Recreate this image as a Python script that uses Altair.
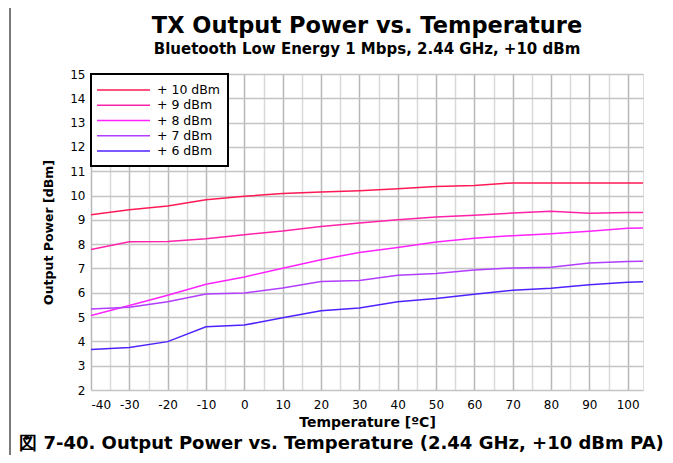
import altair as alt
import pandas as pd

temps = [-40, -30, -20, -10, 0, 10, 20, 30, 40, 50, 60, 70, 80, 90, 100, 104]
p10 = [9.21, 9.42, 9.57, 9.83, 9.97, 10.08, 10.15, 10.20, 10.28, 10.37, 10.41, 10.52, 10.52, 10.52, 10.52, 10.52]
p9 = [7.78, 8.10, 8.11, 8.22, 8.39, 8.54, 8.73, 8.87, 9.00, 9.12, 9.19, 9.28, 9.35, 9.27, 9.30, 9.30]
p8 = [5.06, 5.48, 5.90, 6.35, 6.65, 7.01, 7.36, 7.66, 7.86, 8.09, 8.24, 8.35, 8.43, 8.53, 8.65, 8.66]
p7 = [5.33, 5.40, 5.63, 5.95, 5.99, 6.20, 6.46, 6.50, 6.72, 6.79, 6.94, 7.02, 7.05, 7.22, 7.29, 7.30]
p6 = [3.67, 3.75, 3.99, 4.60, 4.67, 4.97, 5.26, 5.37, 5.63, 5.76, 5.94, 6.10, 6.19, 6.33, 6.43, 6.45]

series_names = ["+ 10 dBm", "+ 9 dBm", "+ 8 dBm", "+ 7 dBm", "+ 6 dBm"]
series_values = [p10, p9, p8, p7, p6]
series_colors = ["#FF1A55", "#FF22A8", "#FF22FF", "#B23CFF", "#4E22FF"]

x_ticks = list(range(-40, 101, 5))
y_ticks = list(range(2, 16))

rows = []
for name, vals in zip(series_names, series_values):
    for t, v in zip(temps, vals):
        rows.append({"Temperature": t, "Power": v, "Series": name})
df = pd.DataFrame(rows)
legend_df = pd.DataFrame({"Series": series_names})

FONT = "DejaVu Sans"
W, H = 552, 316

color_scale = alt.Scale(domain=series_names, range=series_colors)

lines = alt.Chart(df).mark_line(strokeWidth=1.5, clip=True).encode(
    x=alt.X(
        "Temperature:Q",
        scale=alt.Scale(domain=[-40, 104], nice=False, zero=False),
        axis=alt.Axis(
            values=x_ticks,
            title="Temperature [ºC]",
            titleFont=FONT, titleFontSize=14, titleFontWeight="bold",
            titleColor="black", titlePadding=5,
            labelFont=FONT, labelFontSize=12, labelColor="black",
            labelExpr="datum.value % 10 == 0 ? toString(datum.value) : ''",
            labelPadding=9, ticks=False, domain=False,
            gridColor={"expr": "datum.value % 10 == 0 ? '#b8b8b8' : '#d9d9d9'"},
            gridWidth=1.5,
        ),
    ),
    y=alt.Y(
        "Power:Q",
        scale=alt.Scale(domain=[2, 15], nice=False, zero=False),
        axis=alt.Axis(
            values=y_ticks,
            title="Output Power [dBm]",
            titleFont=FONT, titleFontSize=12.5, titleFontWeight="bold",
            titleColor="black", titlePadding=14,
            labelFont=FONT, labelFontSize=12, labelColor="black",
            labelPadding=6, ticks=False, domain=False,
            gridColor="#c4c4c4", gridWidth=1.5,
        ),
    ),
    color=alt.Color("Series:N", scale=color_scale, legend=None),
)

# legend drawn from the series list
leg_y = alt.Y("Series:N", scale=alt.Scale(type="point", domain=series_names, range=[16, 77], padding=0), axis=None)
leg_box = alt.Chart(legend_df).mark_rect(fill="white", stroke="black", strokeWidth=2).encode(
    x=alt.value(0), x2=alt.value(137), y=alt.value(0), y2=alt.value(92)
)
leg_lines = alt.Chart(legend_df).mark_rule(strokeWidth=1.5).encode(
    x=alt.value(6), x2=alt.value(59), y=leg_y,
    color=alt.Color("Series:N", scale=color_scale, legend=None),
)
leg_text = alt.Chart(legend_df).mark_text(
    font=FONT, fontSize=12.5, color="black", align="left", baseline="middle"
).encode(x=alt.value(66), y=leg_y, text="Series:N")

title_df = pd.DataFrame({"t": ["TX Output Power vs. Temperature"]})
sub_df = pd.DataFrame({"t": ["Bluetooth Low Energy 1 Mbps, 2.44 GHz, +10 dBm"]})
cap_df = pd.DataFrame({"t": ["図 7-40. Output Power vs. Temperature (2.44 GHz, +10 dBm PA)"]})

title = alt.Chart(title_df).mark_text(
    font=FONT, fontSize=22.5, fontWeight="bold", color="black", align="center", baseline="alphabetic"
).encode(x=alt.value(W / 2), y=alt.value(-41), text="t:N")
sub = alt.Chart(sub_df).mark_text(
    font=FONT, fontSize=15, fontWeight="bold", color="black", align="center", baseline="alphabetic"
).encode(x=alt.value(W / 2), y=alt.value(-20), text="t:N")
cap = alt.Chart(cap_df).mark_text(
    font=FONT, fontSize=18, fontWeight="bold", color="black", align="center", baseline="alphabetic"
).encode(x=alt.value(250.5), y=alt.value(H + 59), text="t:N")

vline = alt.Chart(title_df).mark_rule(color="#7a7a7a", strokeWidth=2).encode(
    x=alt.value(-81), y=alt.value(-80), y2=alt.value(H + 80)
)
hline = alt.Chart(title_df).mark_rule(color="#7a7a7a", strokeWidth=2).encode(
    x=alt.value(-100), x2=alt.value(W + 60), y=alt.value(-69)
)

chart = alt.layer(vline, hline, lines, leg_box, leg_lines, leg_text, title, sub, cap).resolve_scale(
    y="independent"
).properties(
    width=W, height=H,
    autosize=alt.AutoSizeParams(type="none"),
    padding={"left": 83, "top": 66, "right": 22, "bottom": 65},
).configure_view(stroke="black", strokeWidth=2.5).configure(background="white")

chart.save("out.html", embed_options={"renderer": "svg", "actions": False})
